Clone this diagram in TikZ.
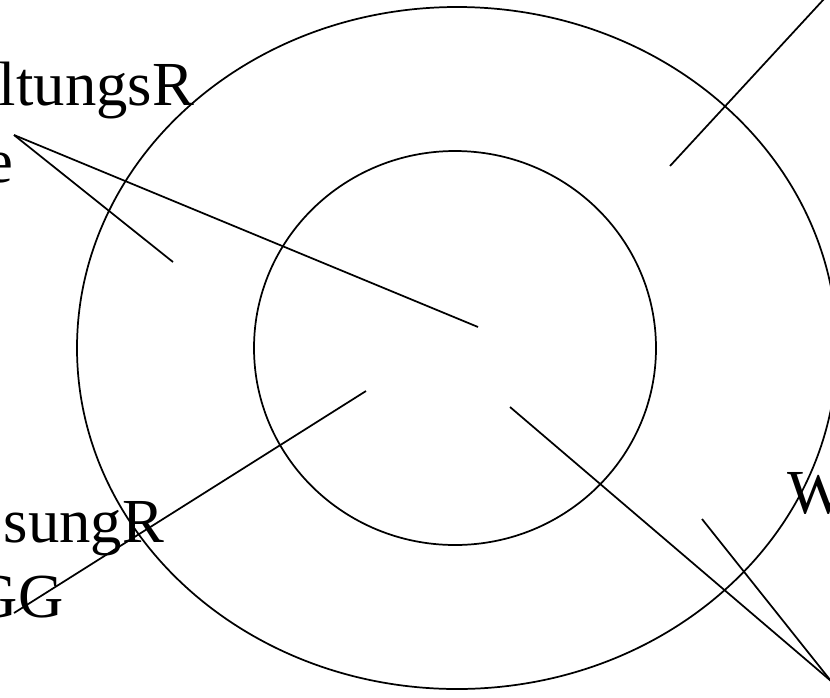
\documentclass[tikz,border=0pt]{standalone}
\usepackage{fontspec}
\setmainfont{Liberation Serif}

\begin{document}
\begin{tikzpicture}[x=0.75pt,y=-0.75pt,line width=1.3pt,
  txt/.style={font=\fontsize{47}{56}\selectfont,anchor=base west,inner sep=0pt}]
  \clip (0,0) rectangle (830,697);
  % rings
  \draw (457,348) ellipse [x radius=380,y radius=341];
  \draw (455,348) ellipse [x radius=201,y radius=197];
  % labels (cut at the page edge)
  \node[txt] (verwA) at (-2,105) {ltungsR};
  \node[txt] (verwB) at (-15,182) {e};
  \node[txt] (loesA) at (3,542) {sungR};
  \node[txt] (loesB) at (-28,617) {GG};
  \node[txt] (wort) at (787,513) {W};
  % line ends
  \coordinate (verwTip) at (14,135);
  \coordinate (outerL) at (173,262);
  \coordinate (innerC) at (478,327);
  \coordinate (innerLo) at (366,391);
  \coordinate (loesTip) at (14,613);
  \coordinate (outerR) at (670,166);
  \coordinate (topTip) at (824,-1);
  \coordinate (innerR) at (510,407);
  \coordinate (outerLo) at (702,519);
  \coordinate (wortTip) at (831,681);
  % pointers
  \draw (verwTip) -- (outerL);
  \draw (verwTip) -- (innerC);
  \draw (loesTip) -- (innerLo);
  \draw (outerR) -- (topTip);
  \draw (innerR) -- (wortTip);
  \draw (outerLo) -- (wortTip);
\end{tikzpicture}
\end{document}
